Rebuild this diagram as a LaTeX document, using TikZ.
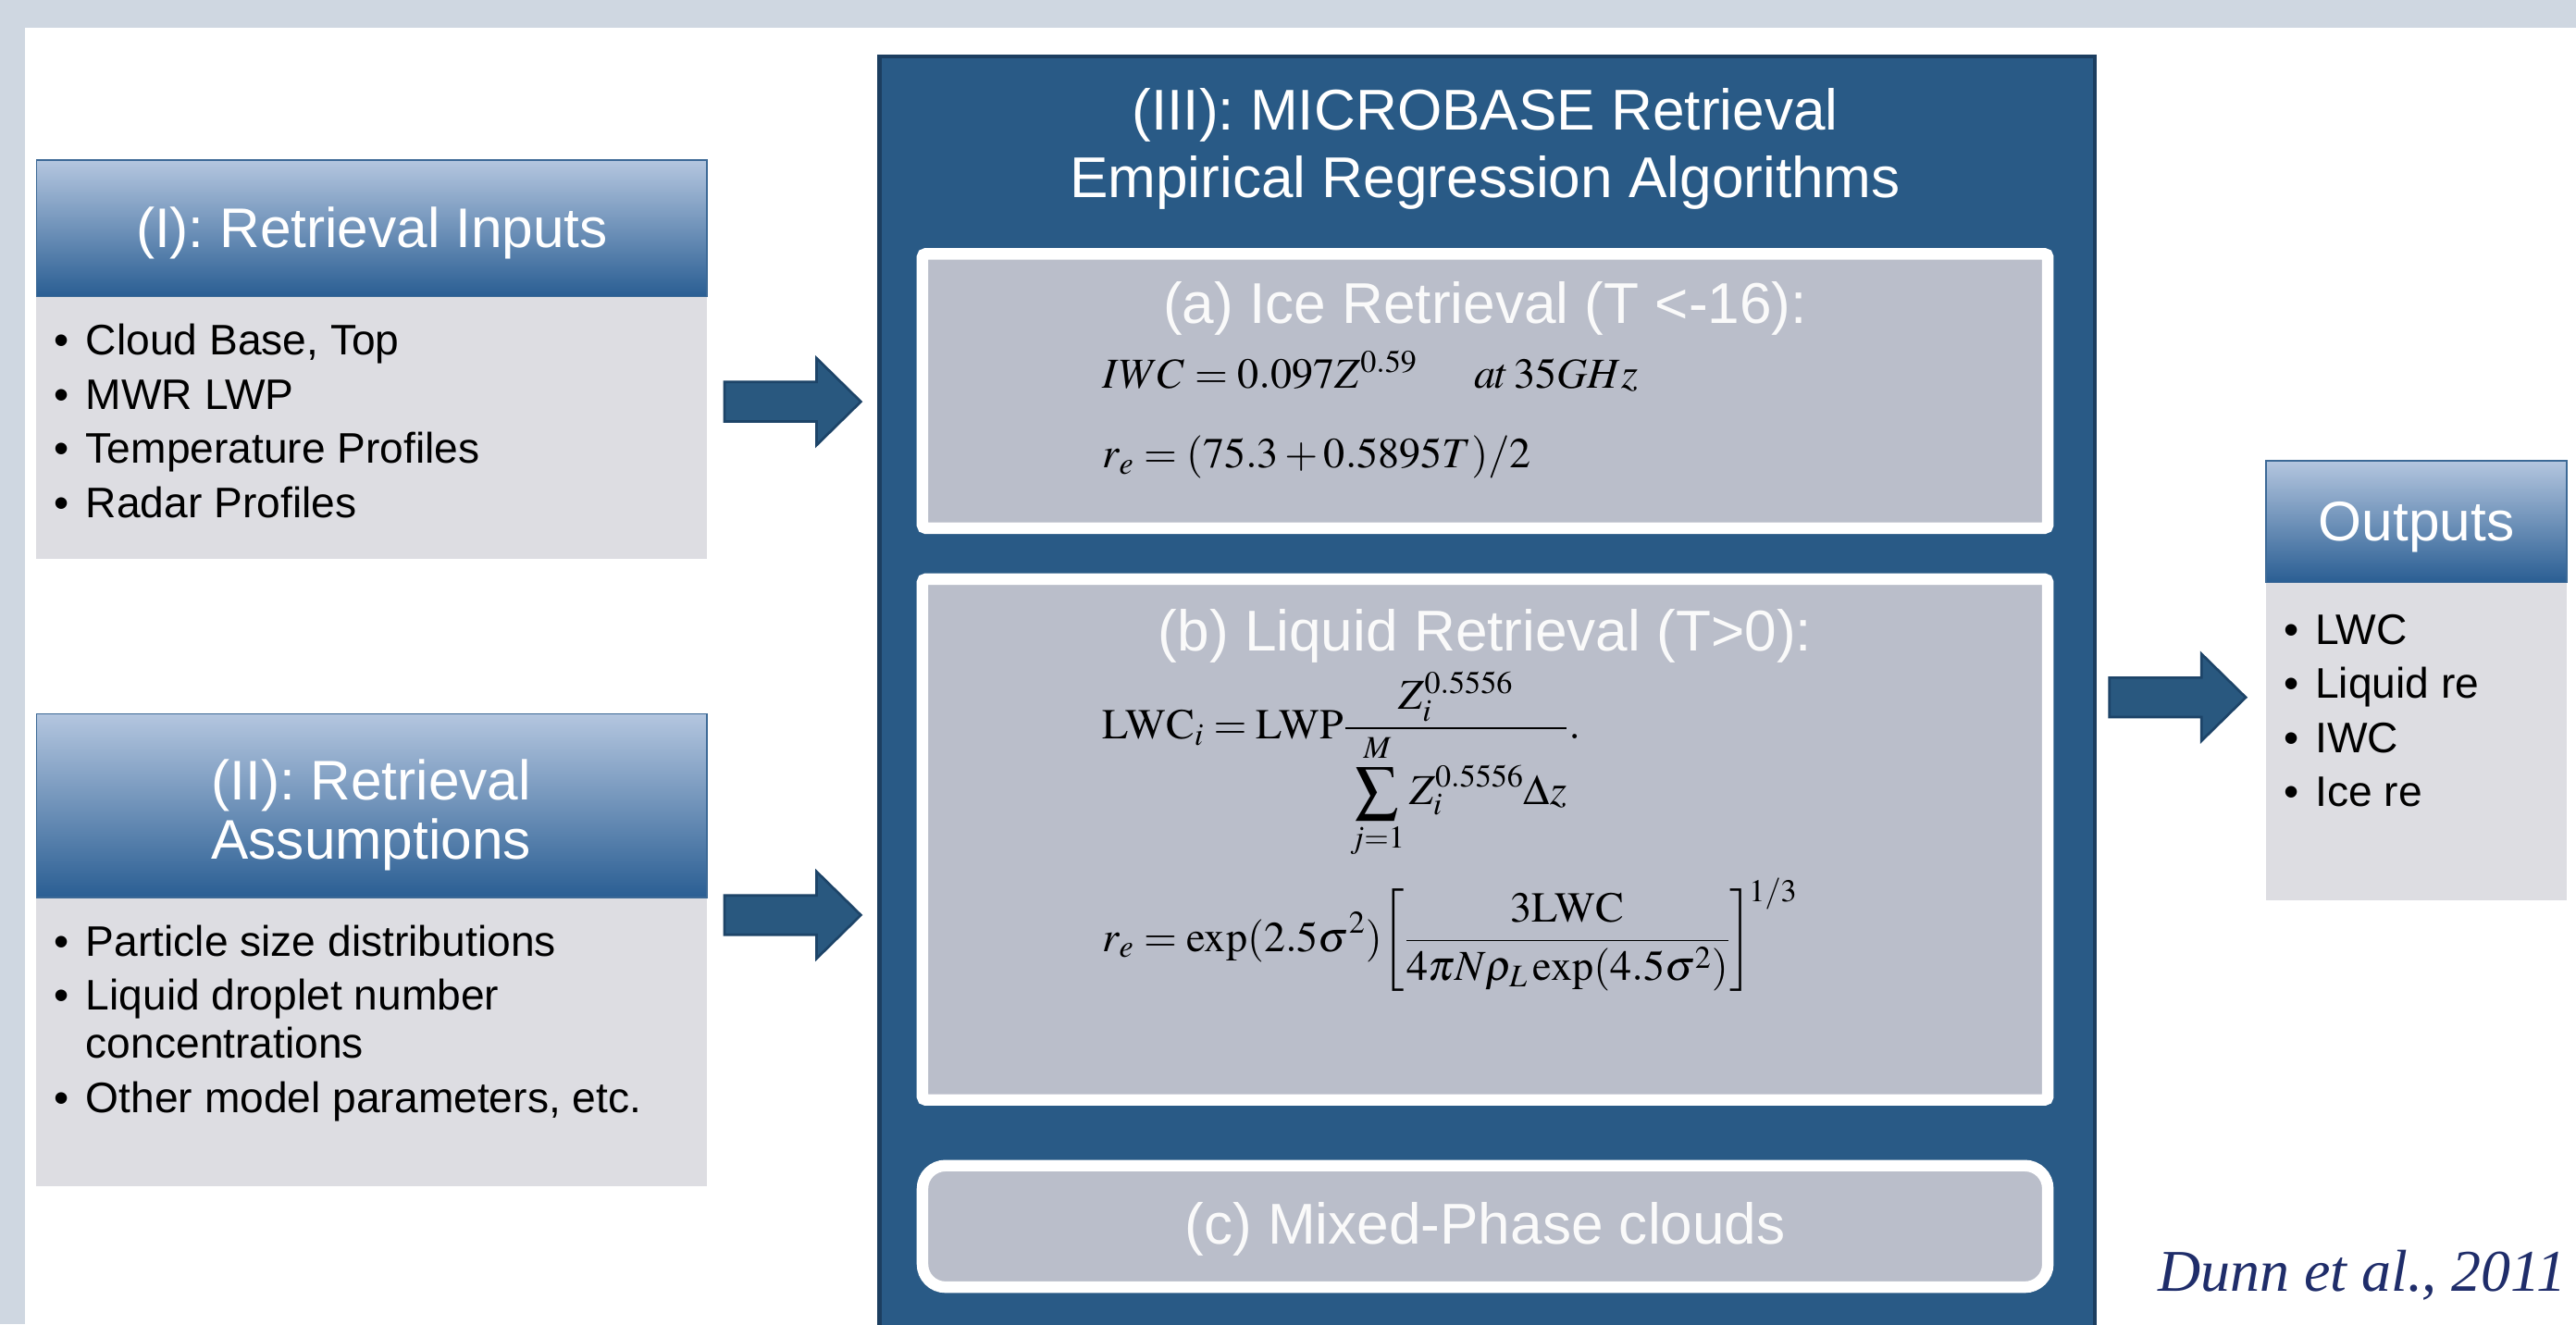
\documentclass[tikz,border=0pt]{standalone}
\usepackage{mathptmx}
\usepackage[no-math]{fontspec}
\setmainfont{Liberation Sans}
\newfontfamily\citefont{Liberation Serif}
\usetikzlibrary{shadows}
\definecolor{bgframe}{HTML}{CFD7E1}
\definecolor{panelblue}{HTML}{295A86}
\definecolor{paneledge}{HTML}{1C3E60}
\definecolor{hdrtop}{HTML}{B4C6DF}
\definecolor{hdrbot}{HTML}{2A5E93}
\definecolor{hdredge}{HTML}{3C6996}
\definecolor{bodygray}{HTML}{DDDDE2}
\definecolor{innergray}{HTML}{BABECA}
\definecolor{arrowfill}{HTML}{29587F}
\definecolor{arrowedge}{HTML}{1D4468}
\definecolor{citeblue}{HTML}{1F2D6A}
\newcommand\hdrfont{\fontsize{34}{36}\selectfont}
\newcommand\bigtitlefont{\fontsize{35}{41}\selectfont}
\newcommand\listfont{\fontsize{26}{33}\selectfont}
\newcommand\eqfont{\fontsize{26}{31}\selectfont}
\newcommand\citesize{\fontsize{36}{40}\selectfont}
\tikzset{
  hdr/.style={draw=hdredge, line width=0.8pt, top color=hdrtop, bottom color=hdrbot,
    text=white, font=\hdrfont, inner sep=0pt, align=center, anchor=north west},
  hdrone/.style={hdr, text height=30pt, text depth=6pt},
  hdrtext/.style={text=white, font=\hdrfont, inner sep=0pt, align=center, anchor=north},
  bodybox/.style={fill=bodygray, draw=none, anchor=north west, inner sep=0pt},
  listtext/.style={font=\listfont, text=black, inner sep=0pt, anchor=base west},
  subbox/.style={fill=innergray, draw=white, line width=7pt, rounded corners=2pt,
    inner sep=0pt, drop shadow={opacity=0.35, shadow xshift=0pt, shadow yshift=-2pt}},
  subtitle/.style={font=\bigtitlefont, text=white!96!gray, inner sep=0pt, anchor=base},
  eqn/.style={font=\eqfont, text=black, inner sep=0pt, anchor=base west},
  arrowshape/.style={fill=arrowfill, draw=arrowedge, line width=1.5pt, line join=miter},
  pics/blockarrow/.style={code={
    \path[arrowshape] (0,-12) -- (56,-12) -- (56,-26.5) -- (83,0) -- (56,26.5)
      -- (56,12) -- (0,12) -- cycle;}}
}
\begin{document}
\begin{tikzpicture}[x=1pt,y=-1pt]
\useasboundingbox (0,0) rectangle (1568,806);
\fill[bgframe] (0,0) rectangle (1568,806);
\fill[white] (15,17) rectangle (1580,820);

% (I) Retrieval inputs
\node[bodybox, minimum width=408pt, minimum height=160pt] (inB) at (22,180) {};
\node[hdrone, minimum width=408pt, minimum height=83pt] (inH) at (22,97) {(I): Retrieval Inputs};
\node[listtext] (inL) at (33,216) {\begin{tabular}[t]{@{}l@{\hspace{10pt}}l@{}}
\textbullet & Cloud Base, Top\\
\textbullet & MWR LWP\\
\textbullet & Temperature Profiles\\
\textbullet & Radar Profiles
\end{tabular}};

% (II) Retrieval assumptions
\node[bodybox, minimum width=408pt, minimum height=176pt] (asB) at (22,546) {};
\node[hdr, minimum width=408pt, minimum height=112pt] (asH) at (22,434) {};
\node[hdrtext] (asHT) at (226,462) {(II): Retrieval\\Assumptions};
\node[listtext] (asL) at (33,582) {\begin{tabular}[t]{@{}l@{\hspace{10pt}}l@{}}
\textbullet & Particle size distributions\\
\textbullet & Liquid droplet number\\[-4pt]
 & concentrations\\
\textbullet & Other model parameters, etc.
\end{tabular}};

% (III) central panel
\node[fill=panelblue, draw=paneledge, line width=2.5pt, minimum width=740pt,
  minimum height=800pt, anchor=north west, inner sep=0pt] (mid) at (534,33) {};
\node[font=\bigtitlefont, text=white, align=center, anchor=north, inner sep=0pt] (midT)
  at (904,53.5) {(III): MICROBASE Retrieval\\Empirical Regression Algorithms};

% (a)
\node[subbox, minimum width=685pt, minimum height=167pt] (ice) at (904,238) {};
\node[subtitle] (iceT) at (904,197) {(a) Ice Retrieval (T <-16):};
\node[eqn] (iceE1) at (671,236) {$IWC=0.097Z^{0.59}$};
\node[eqn] (iceE2) at (897,236) {$at\,35GHz$};
\node[eqn] (iceE3) at (671,284.5) {$r_e=(75.3+0.5895T)/2$};

% (b)
\node[subbox, minimum width=685pt, minimum height=317pt] (liq) at (904,511) {};
\node[subtitle] (liqT) at (904,396) {(b) Liquid Retrieval (T>0):};
\node[eqn] (liqE1) at (671,449.6) {$\displaystyle \mathrm{LWC}_i=\mathrm{LWP}\frac{Z_i^{0.5556}}{\rule{0pt}{30pt}\displaystyle\sum_{j=1}^{M}Z_i^{0.5556}\Delta z}.$};
\node[eqn] (liqE2) at (671,579) {$\displaystyle r_e=\exp(2.5\sigma^2)\!\left[\frac{3\mathrm{LWC}}{4\pi N\rho_L\exp(4.5\sigma^2)}\right]^{\!1/3}$};

% (c)
\node[subbox, rounded corners=14pt, minimum width=685pt, minimum height=74pt] (mix) at (904,746.5) {};
\node[subtitle] (mixT) at (904,757) {(c) Mixed-Phase clouds};

% Outputs
\node[bodybox, minimum width=183pt, minimum height=194pt] (outB) at (1379,354) {};
\node[hdrone, minimum width=183pt, minimum height=74pt] (outH) at (1379,280) {Outputs};
\node[listtext] (outL) at (1390,392) {\begin{tabular}[t]{@{}l@{\hspace{10pt}}l@{}}
\textbullet & LWC\\
\textbullet & Liquid re\\
\textbullet & IWC\\
\textbullet & Ice re
\end{tabular}};

% block arrows
\pic at (441,244.5) {blockarrow};
\pic at (441,557) {blockarrow};
\pic at (1284,424.5) {blockarrow};

% citation
\node[font=\citefont\itshape\citesize, text=citeblue, inner sep=0pt, anchor=base east] (cite)
  at (1562,786) {Dunn et al., 2011};
\end{tikzpicture}
\end{document}
